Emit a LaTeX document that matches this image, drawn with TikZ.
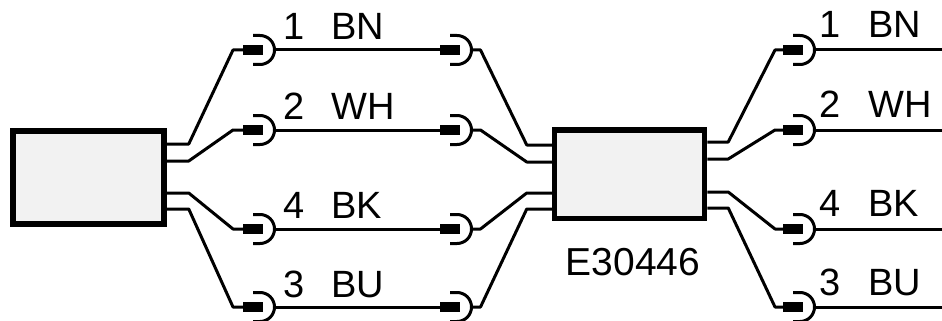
\documentclass[tikz,border=0pt]{standalone}
\usepackage{fontspec}
\setmainfont{Liberation Sans}
\usetikzlibrary{calc}
\definecolor{boxgray}{HTML}{F2F2F2}
\tikzset{
  wire/.style={line width=3pt, line join=round},
  housing/.style={draw, line width=5.5pt, fill=boxgray, inner sep=0pt},
  lbl/.style={font=\fontsize{38}{38}\selectfont, inner sep=0pt, anchor=base west},
  plug/.pic={
    \fill (-17,-5) rectangle (3,5);
    \draw[wire] (-7,-14.5) -- (0,-14.5) arc (-90:90:14.5) -- (-7,14.5);
    \coordinate (-in) at (-17,0);
    \coordinate (-out) at (14.5,0);
  }
}
\begin{document}
\begin{tikzpicture}[x=1pt,y=-1pt]
\useasboundingbox (0,0) rectangle (942,321);
\node[housing, minimum width=151pt, minimum height=93pt] (boxL) at (88.5,177.5) {};
\node[housing, minimum width=150pt, minimum height=88.5pt] (boxM) at (629.5,174) {};
\node[font=\fontsize{39}{39}\selectfont, inner sep=0pt, anchor=base] (code) at (633,275) {E30446};
\foreach \n/\yp/\ya/\yb/\yc/\d/\c/\bl/\br in {
  1/50/144/145/142/1/BN/40/38,
  2/130/161/162/159/2/WH/119/117,
  4/229/193/193/192/4/BK/218/216,
  3/307/209/209/208/3/BU/297/295}{
  \pic (L\n) at (260,\yp) {plug};
  \pic (M\n) at (457,\yp) {plug};
  \pic (R\n) at (800,\yp) {plug};
  \coordinate (E\n) at (942,\yp);
  % left box to left plug
  \draw[wire] (boxL.east |- 0,\ya) -- ++(22,0) -- ($(L\n-in)+(-10,0)$) -- (L\n-in);
  % left plug to middle plug
  \draw[wire] (L\n-out) -- (M\n-in);
  % middle plug to middle box
  \draw[wire] (M\n-out) -- ++(9,0) -- ($(boxM.west |- 0,\yb)+(-25,0)$) -- (boxM.west |- 0,\yb);
  % middle box to right plug
  \draw[wire] (boxM.east |- 0,\yc) -- ++(21,0) -- ($(R\n-in)+(-8,0)$) -- (R\n-in);
  % right plug out
  \draw[wire] (R\n-out) -- (E\n);
  % labels
  \node[lbl] (dL\n) at (283,\bl) {\d};
  \node[lbl] (cL\n) at (331,\bl) {\c};
  \node[lbl] (dR\n) at (819,\br) {\d};
  \node[lbl] (cR\n) at (868,\br) {\c};
}
\end{tikzpicture}
\end{document}
